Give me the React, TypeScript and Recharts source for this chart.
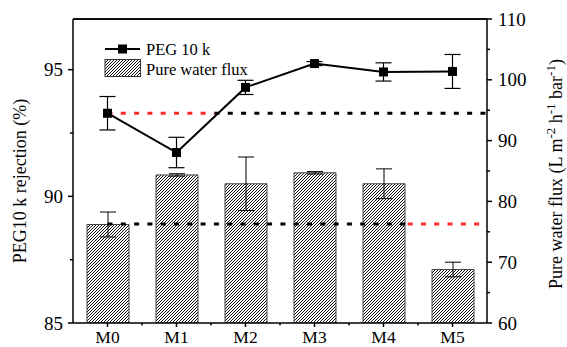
import React from 'react';
import { ComposedChart, Bar, Line, XAxis, YAxis, ErrorBar, ReferenceLine, Legend } from 'recharts';

const categories = ['M0', 'M1', 'M2', 'M3', 'M4', 'M5'];
const pegRejection = [93.28, 91.73, 94.3, 95.24, 94.91, 94.93];
const pegError = [0.66, 0.6, 0.28, 0.08, 0.36, 0.67];
const waterFlux = [76.2, 84.35, 82.9, 84.7, 82.9, 68.8];
const fluxError = [2.05, 0.2, 4.4, 0.2, 2.45, 1.2];

const leftTicks = [85, 87.5, 90, 92.5, 95];
const rightTicks = [60, 65, 70, 75, 80, 85, 90, 95, 100, 105, 110];
const xPositions = [0.5, 1, 1.5, 2, 2.5, 3, 3.5, 4, 4.5, 5, 5.5];

const pegRefLevel = 93.28;
const fluxRefLevel = 76.3;
const pegRefRed = [0.5, 2.05];
const pegRefBlack = [2.05, 6];
const fluxRefBlack = [0.5, 4.85];
const fluxRefRed = [4.85, 6];

const data = categories.map((c, i) => ({
  name: c,
  x: i + 0.5,
  peg: pegRejection[i],
  pegErr: pegError[i],
  flux: waterFlux[i],
  fluxErr: fluxError[i],
}));

const FONT = "'Liberation Serif', 'Times New Roman', Times, 'DejaVu Serif', serif";
const RED = '#ff2a2a';
const txt = { fontFamily: FONT };

const LeftTick = (props: any) => {
  const { x, y, payload } = props;
  const v = payload.value;
  const major = v % 5 === 0;
  return (
    <g>
      <line x1={x} x2={x - (major ? 5 : 3)} y1={y} y2={y} stroke="#000" strokeWidth={1.5} />
      {major && (
        <text x={x - 10} y={y} dy="0.35em" textAnchor="end" fontSize={19} style={txt} fill="#000">
          {v}
        </text>
      )}
    </g>
  );
};

const RightTick = (props: any) => {
  const { x, y, payload } = props;
  const v = payload.value;
  const major = v % 10 === 0;
  return (
    <g>
      <line x1={x} x2={x + (major ? 5 : 3)} y1={y} y2={y} stroke="#000" strokeWidth={1.5} />
      {major && (
        <text x={x + 11} y={y} dy="0.35em" textAnchor="start" fontSize={19} style={txt} fill="#000">
          {v}
        </text>
      )}
    </g>
  );
};

const BottomTick = (props: any) => {
  const { x, y, payload } = props;
  const v = payload.value;
  const major = v % 1 !== 0;
  return (
    <g>
      <line x1={x} x2={x} y1={y} y2={y + (major ? 4 : 2.5)} stroke="#000" strokeWidth={1.5} />
      {major && (
        <text x={x} y={y + 20} textAnchor="middle" fontSize={17.5} style={txt} fill="#000">
          {categories[Math.floor(v)]}
        </text>
      )}
    </g>
  );
};

const LeftTitle = () => (
  <text
    x={26}
    y={181}
    transform="rotate(-90 26 181)"
    textAnchor="middle"
    fontSize={18}
    style={txt}
    fill="#000"
  >
    PEG10 k rejection (%)
  </text>
);

const RightTitle = () => (
  <text
    x={562}
    y={174}
    transform="rotate(-90 562 174)"
    textAnchor="middle"
    fontSize={18}
    style={txt}
    fill="#000"
  >
    Pure water flux (L m
    <tspan dy={-7} fontSize={13}>-2</tspan>
    <tspan dy={7}> h</tspan>
    <tspan dy={-7} fontSize={13}>-1</tspan>
    <tspan dy={7}> bar</tspan>
    <tspan dy={-7} fontSize={13}>-1</tspan>
    <tspan dy={7}>)</tspan>
  </text>
);

const SquareDot = (props: any) => {
  const { cx, cy, index } = props;
  if (cx == null || cy == null) return null;
  return <rect key={`d${index}`} x={cx - 4.5} y={cy - 4.5} width={9} height={9} fill="#000" />;
};

const LegendContent = () => (
  <svg width={200} height={45} style={{ overflow: 'visible' }}>
    <line x1={5} x2={40} y1={11} y2={11} stroke="#000" strokeWidth={2} />
    <rect x={18} y={6.5} width={9} height={9} fill="#000" />
    <text x={46} y={11} dy="0.35em" fontSize={16.5} style={txt} fill="#000">
      PEG 10 k
    </text>
    <rect x={5} y={21.5} width={35.5} height={17} fill="url(#hatch)" stroke="#333" strokeWidth={1} />
    <text x={46} y={31} dy="0.35em" fontSize={16.5} style={txt} fill="#000">
      Pure water flux
    </text>
  </svg>
);

const dotted = { strokeWidth: 3, strokeDasharray: '5 8.3' };

export default function App() {
  return (
    <div
      style={{
        position: 'absolute',
        left: 0,
        top: 0,
        width: 567,
        height: 347,
        background: '#fff',
        fontFamily: FONT,
      }}
    >
      <svg width={0} height={0} style={{ position: 'absolute' }}>
        <defs>
          <pattern id="hatch" patternUnits="userSpaceOnUse" width={3} height={3}>
            <rect width={3} height={3} fill="#fff" />
            <path d="M-0.75,0.75 L0.75,-0.75 M0,3 L3,0 M2.25,3.75 L3.75,2.25" stroke="#111" strokeWidth={1} />
          </pattern>
        </defs>
      </svg>
      <ComposedChart
        width={567}
        height={347}
        data={data}
        margin={{ top: 18, right: 20, bottom: 0, left: 13 }}
      >
        <XAxis
          xAxisId="n"
          dataKey="x"
          type="number"
          domain={[0, 6]}
          ticks={xPositions}
          interval={0}
          orientation="bottom"
          height={24}
          tickSize={0}
          tickMargin={0}
          tickLine={false}
          tick={<BottomTick />}
          axisLine={{ stroke: '#000', strokeWidth: 1.5 }}
          allowDataOverflow
        />
        <XAxis xAxisId="cat" dataKey="name" type="category" height={0} hide />
        <XAxis
          xAxisId="t"
          dataKey="x"
          type="number"
          domain={[0, 6]}
          ticks={xPositions}
          interval={0}
          orientation="top"
          height={1}
          tickSize={3}
          tick={false}
          tickLine={{ stroke: '#000', strokeWidth: 1.5 }}
          axisLine={{ stroke: '#000', strokeWidth: 1.5 }}
          allowDataOverflow
        />
        <YAxis
          yAxisId="l"
          orientation="left"
          domain={[85, 97]}
          ticks={leftTicks}
          interval={0}
          width={60}
          tickSize={0}
          tickMargin={0}
          tickLine={false}
          tick={<LeftTick />}
          axisLine={{ stroke: '#000', strokeWidth: 1.5 }}
          allowDataOverflow
          label={<LeftTitle />}
        />
        <YAxis
          yAxisId="r"
          orientation="right"
          domain={[60, 110]}
          ticks={rightTicks}
          interval={0}
          width={60}
          tickSize={0}
          tickMargin={0}
          tickLine={false}
          tick={<RightTick />}
          axisLine={{ stroke: '#000', strokeWidth: 1.5 }}
          allowDataOverflow
          label={<RightTitle />}
        />
        <Legend
          layout="vertical"
          align="center"
          verticalAlign="middle"
          content={<LegendContent />}
          wrapperStyle={{ position: 'absolute', left: 100, top: 38, width: 200, height: 45 }}
        />
        <ReferenceLine yAxisId="l" xAxisId="n" y={97} stroke="#000" strokeWidth={1.5} ifOverflow="visible" />
        <Bar
          xAxisId="cat"
          yAxisId="r"
          dataKey="flux"
          barSize={42}
          fill="url(#hatch)"
          stroke="#444"
          strokeWidth={1}
          isAnimationActive={false}
        >
          <ErrorBar dataKey="fluxErr" direction="y" width={8} stroke="#000" strokeWidth={1} />
        </Bar>
        <ReferenceLine
          xAxisId="n"
          yAxisId="r"
          ifOverflow="visible"
          segment={[{ x: fluxRefBlack[0], y: fluxRefLevel }, { x: fluxRefBlack[1], y: fluxRefLevel }]}
          stroke="#000"
          {...dotted}
        />
        <ReferenceLine
          xAxisId="n"
          yAxisId="r"
          ifOverflow="visible"
          segment={[{ x: fluxRefRed[0], y: fluxRefLevel }, { x: fluxRefRed[1], y: fluxRefLevel }]}
          stroke={RED}
          {...dotted}
        />
        <ReferenceLine
          xAxisId="n"
          yAxisId="l"
          ifOverflow="visible"
          segment={[{ x: pegRefRed[0], y: pegRefLevel }, { x: pegRefRed[1], y: pegRefLevel }]}
          stroke={RED}
          {...dotted}
        />
        <ReferenceLine
          xAxisId="n"
          yAxisId="l"
          ifOverflow="visible"
          segment={[{ x: pegRefBlack[0], y: pegRefLevel }, { x: pegRefBlack[1], y: pegRefLevel }]}
          stroke="#000"
          {...dotted}
        />
        <Line
          xAxisId="cat"
          yAxisId="l"
          dataKey="peg"
          stroke="#000"
          strokeWidth={2}
          dot={<SquareDot />}
          activeDot={false}
          isAnimationActive={false}
        >
          <ErrorBar dataKey="pegErr" direction="y" width={8} stroke="#000" strokeWidth={1.2} />
        </Line>
      </ComposedChart>
    </div>
  );
}
